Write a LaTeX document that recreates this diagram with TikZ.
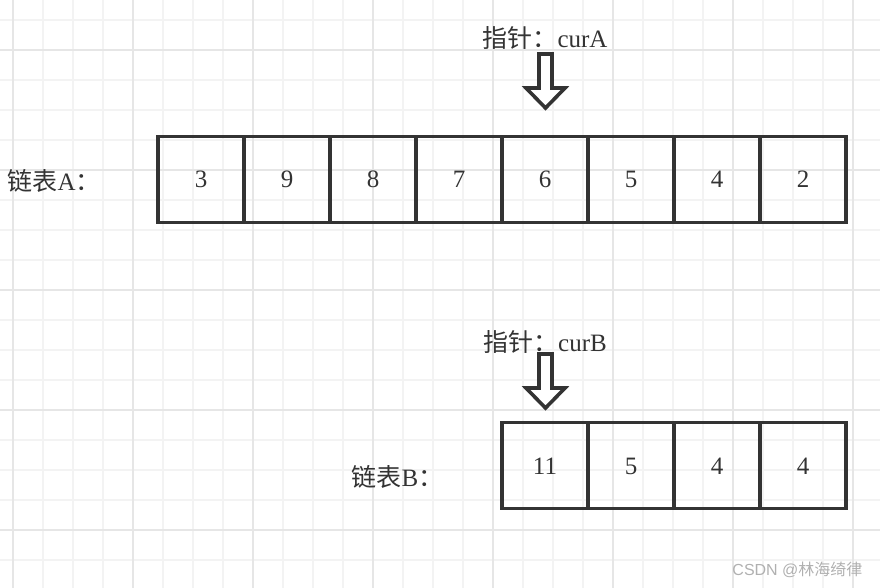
\documentclass[tikz,border=0pt]{standalone}
\usepackage{fontspec}
\setmainfont{Liberation Serif}
\newfontfamily\cjk{Noto Sans CJK SC}
\newfontfamily\wmfont{Liberation Sans}
\usepackage{xcolor}
\definecolor{boxgray}{HTML}{333333}
\definecolor{gridminor}{HTML}{F3F3F3}
\definecolor{gridmajor}{HTML}{E6E6E6}
\definecolor{markgray}{HTML}{B0B0B0}

\begin{document}
\begin{tikzpicture}[x=1pt, y=-1pt, every node/.style={font=\fontsize{25}{28}\selectfont, text=boxgray},
  cell/.style={draw=boxgray, line width=3.6pt, minimum size=86pt, inner sep=0pt, outer sep=0pt,
    text height=17pt, text depth=0pt},
  ptr/.style={draw=boxgray, line width=3.6pt, line join=miter, fill=white}]
  \useasboundingbox (0,0) rectangle (880,588);
  % background grid
  \foreach \gx in {13,43,...,883} \draw[gridminor, line width=1.6pt] (\gx,0) -- (\gx,588);
  \foreach \gy in {20,50,...,590} \draw[gridminor, line width=1.6pt] (0,\gy) -- (880,\gy);
  \foreach \gx in {13,133,...,853} \draw[gridmajor, line width=1.6pt] (\gx,0) -- (\gx,588);
  \foreach \gy in {50,170,...,530} \draw[gridmajor, line width=1.6pt] (0,\gy) -- (880,\gy);

  % list A
  \foreach \val [count=\i] in {3,9,8,7,6,5,4,2}
    \node[cell] (a\i) at (158+43+86*\i-86, 179.5) {\val};
  \node[anchor=west] (labA) at (4,181) {\cjk 链表\rmfamily A\cjk ：};
  \node (ptrA) at (545,38) {\cjk 指针：\rmfamily curA};
  \coordinate (arrA) at (545.5,54);
  \draw[ptr] (arrA) ++(-6.5,0) -- ++(13,0) -- ++(0,34) -- ++(13,0) -- ++(-19.5,20)
    -- ++(-19.5,-20) -- ++(13,0) -- cycle;

  % list B
  \foreach \val [count=\i] in {11,5,4,4}
    \node[cell] (b\i) at (502+43+86*\i-86, 465.5) {\val};
  \node[anchor=west] (labB) at (348,477) {\cjk 链表\rmfamily B\cjk ：};
  \node (ptrB) at (545,342) {\cjk 指针：\rmfamily curB};
  \coordinate (arrB) at (545.5,354);
  \draw[ptr] (arrB) ++(-6.5,0) -- ++(13,0) -- ++(0,34) -- ++(13,0) -- ++(-19.5,20)
    -- ++(-19.5,-20) -- ++(13,0) -- cycle;

  \node[anchor=east, text=markgray, font=\fontsize{16}{19}\selectfont] (mark) at (866,570) {\wmfont CSDN @\cjk 林海绮律};
\end{tikzpicture}
\end{document}
